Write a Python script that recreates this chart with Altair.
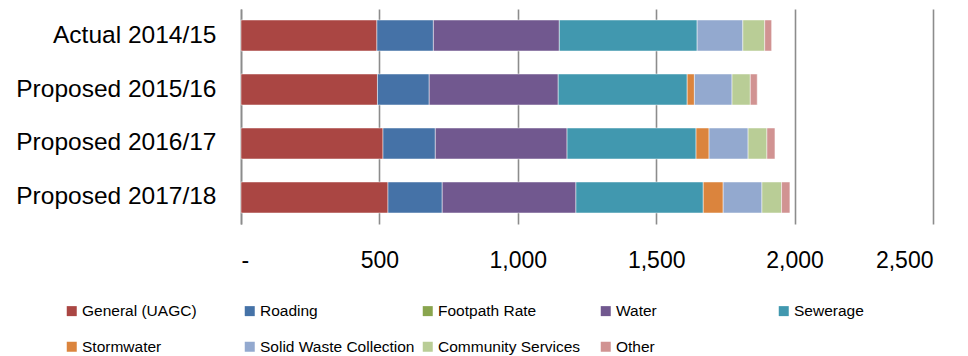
import altair as alt
import pandas as pd

periods = ["Actual 2014/15", "Proposed 2015/16", "Proposed 2016/17", "Proposed 2017/18"]
series = ["General (UAGC)", "Roading", "Footpath Rate", "Water", "Sewerage",
          "Stormwater", "Solid Waste Collection", "Community Services", "Other"]
colors = ["#AA4643", "#4572A7", "#89A54E", "#71588F", "#4198AF",
          "#DB843D", "#93A9CF", "#B9CD96", "#D19392"]

general = [491, 493, 513, 531]
roading = [204, 187, 189, 196]
footpath = [0, 0, 0, 0]
water = [455, 466, 476, 483]
sewerage = [498, 466, 466, 460]
stormwater = [0, 26, 47, 72]
solid_waste = [165, 136, 141, 140]
community = [79, 66, 68, 71]
other = [25, 25, 29, 30]

x_ticks = [0, 500, 1000, 1500, 2000, 2500]

values = [general, roading, footpath, water, sewerage, stormwater, solid_waste, community, other]
rows = []
for si, (name, vals) in enumerate(zip(series, values)):
    for p, v in zip(periods, vals):
        rows.append({"period": p, "series": name, "order": si, "value": v})
df = pd.DataFrame(rows)

FONT = "Liberation Sans"
GRID = "#8c8c8c"

chart = alt.Chart(df).transform_filter("datum.value > 0").mark_bar(
    stroke="white", strokeWidth=0.8, strokeOpacity=0.6
).encode(
    x=alt.X("value:Q", stack="zero",
            scale=alt.Scale(domain=[0, 2500], nice=False),
            axis=alt.Axis(values=x_ticks, title=None, domain=False, ticks=False,
                          grid=True, gridColor=GRID, gridWidth=1.6, gridOpacity=1,
                          labelExpr="datum.value == 0 ? '-' : format(datum.value, ',')",
                          labelFont=FONT, labelFontSize=23, labelColor="black",
                          labelPadding=25)),
    y=alt.Y("period:N", sort=periods,
            scale=alt.Scale(paddingInner=0.426, paddingOuter=0.204),
            axis=alt.Axis(title=None, ticks=False, domain=True, domainColor=GRID,
                          domainWidth=1.6, grid=False, labelFont=FONT,
                          labelFontSize=24.5, labelColor="black", labelPadding=25,
                          labelLimit=400)),
    color=alt.Color("series:N",
                    scale=alt.Scale(domain=series, range=colors),
                    legend=alt.Legend(title=None, orient="none", legendX=-177, legendY=294,
                                      direction="horizontal",
                                      columns=5, gridAlign="all", columnPadding=5,
                                      rowPadding=19, symbolType="square", symbolSize=100,
                                      symbolStrokeWidth=0, labelFont=FONT,
                                      labelFontSize=15.5, labelColor="black",
                                      labelLimit=400, labelOffset=2.5, padding=0)),
    order=alt.Order("order:Q", sort="ascending"),
).properties(
    width=692, height=215,
    autosize=alt.AutoSizeParams(type="none"),
    padding={"left": 241, "top": 9, "right": 35, "bottom": 132},
).configure_view(stroke=None)

chart.save("out.html", embed_options={"renderer": "svg", "actions": False})
